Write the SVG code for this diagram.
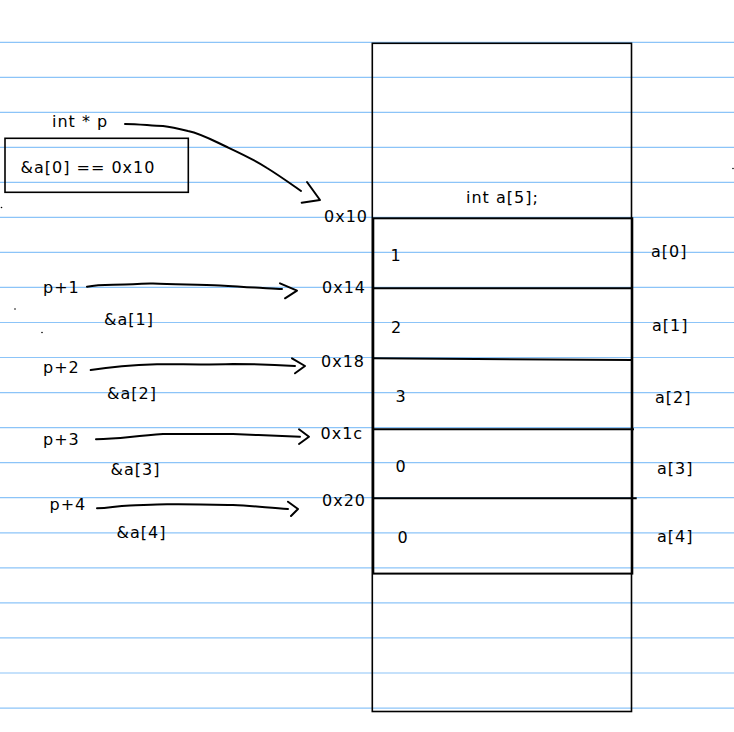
<svg xmlns="http://www.w3.org/2000/svg" width="734" height="732" viewBox="0 0 734 732">
<style>
text{font-family:"DejaVu Sans","Liberation Sans",sans-serif;font-size:16px;letter-spacing:1px;fill:#000}
.rule{stroke:#8cc4f8;stroke-width:1.2}
.box{fill:none;stroke:#000;stroke-width:1.6}
.cell{fill:none;stroke:#000;stroke-width:2}
.ink{fill:none;stroke:#000;stroke-width:2;stroke-linecap:round;stroke-linejoin:round}
</style>
<rect width="734" height="732" fill="#fff"/>
<g id="ruling">
<line class="rule" x1="0" y1="42.3" x2="734" y2="42.3"/>
<line class="rule" x1="0" y1="77.3" x2="734" y2="77.3"/>
<line class="rule" x1="0" y1="112.3" x2="734" y2="112.3"/>
<line class="rule" x1="0" y1="147.3" x2="734" y2="147.3"/>
<line class="rule" x1="0" y1="182.3" x2="734" y2="182.3"/>
<line class="rule" x1="0" y1="217.4" x2="734" y2="217.4"/>
<line class="rule" x1="0" y1="252.4" x2="734" y2="252.4"/>
<line class="rule" x1="0" y1="287.4" x2="734" y2="287.4"/>
<line class="rule" x1="0" y1="322.5" x2="734" y2="322.5"/>
<line class="rule" x1="0" y1="357.5" x2="734" y2="357.5"/>
<line class="rule" x1="0" y1="392.6" x2="734" y2="392.6"/>
<line class="rule" x1="0" y1="427.6" x2="734" y2="427.6"/>
<line class="rule" x1="0" y1="462.7" x2="734" y2="462.7"/>
<line class="rule" x1="0" y1="497.7" x2="734" y2="497.7"/>
<line class="rule" x1="0" y1="532.8" x2="734" y2="532.8"/>
<line class="rule" x1="0" y1="567.8" x2="734" y2="567.8"/>
<line class="rule" x1="0" y1="602.9" x2="734" y2="602.9"/>
<line class="rule" x1="0" y1="637.9" x2="734" y2="637.9"/>
<line class="rule" x1="0" y1="673" x2="734" y2="673"/>
<line class="rule" x1="0" y1="708.2" x2="734" y2="708.2"/>
</g>
<g id="specks" fill="#000">
<circle cx="1.5" cy="207.5" r="0.8"/>
<circle cx="15" cy="309" r="0.8"/>
<circle cx="42" cy="332.5" r="0.8"/>
<circle cx="733" cy="168.5" r="0.8"/>
</g>
<g id="memory">
<rect class="box" x="372.3" y="43.3" width="259.2" height="668.2"/>
<text x="466" y="203">int a[5];</text>
</g>
<g id="array">
<rect class="cell" x="373.3" y="218.3" width="259" height="355.3"/>
</g>
<g id="cell0">
<text x="390.5" y="261">1</text>
<text x="651" y="257">a[0]</text>
<text x="324" y="222">0x10</text>
</g>
<g id="cell1">
<line class="cell" x1="373.3" y1="288.3" x2="632.3" y2="288.3"/>
<text x="391" y="333.3">2</text>
<text x="652" y="331">a[1]</text>
<text x="322" y="293">0x14</text>
</g>
<g id="cell2">
<line class="cell" x1="373.3" y1="358.3" x2="632.3" y2="360"/>
<text x="395.5" y="402">3</text>
<text x="655" y="403">a[2]</text>
<text x="321" y="367">0x18</text>
</g>
<g id="cell3">
<line class="cell" x1="373.3" y1="429.3" x2="634" y2="429.3"/>
<text x="395.5" y="472">0</text>
<text x="657" y="473.5">a[3]</text>
<text x="320.5" y="439">0x1c</text>
</g>
<g id="cell4">
<line class="cell" x1="373.3" y1="498.3" x2="636.7" y2="498.3"/>
<text x="397.5" y="543">0</text>
<text x="657" y="542">a[4]</text>
<text x="322" y="506">0x20</text>
</g>
<g id="pointer">
<text x="52" y="127">int * p</text>
<rect class="box" x="5" y="138.3" width="183.3" height="54"/>
<text x="20.5" y="173.3">&amp;a[0] == 0x10</text>
</g>
<g id="offsets">
<text x="43" y="293">p+1</text>
<text x="104" y="325">&amp;a[1]</text>
<text x="43" y="373">p+2</text>
<text x="107" y="399">&amp;a[2]</text>
<text x="43" y="444.5">p+3</text>
<text x="110.5" y="474.5">&amp;a[3]</text>
<text x="49.5" y="510">p+4</text>
<text x="116.5" y="537.5">&amp;a[4]</text>
</g>
<g id="connectors">
<path class="ink" d="M125,124 C140,124 152,126 163,126 C172,127 180,129 188,131 C202,134 214,141 227,147 C242,154 255,160 267,168 C280,176 291,184 301,191"/>
<path class="ink" d="M307,182 L320,200 L301.7,202.7"/>
<path class="ink" d="M87,286.7 C100,284 110,285 125,284.5 C140,284.5 145,283 153,283.5 C175,284.5 200,284.5 220,285.5 C235,286 240,287 255,287.5 C265,288 275,289 282,289"/>
<path class="ink" d="M280,283.3 L297,290.7 L285,298.3"/>
<path class="ink" d="M90.7,370 C110,367 135,365 157,364.3 C180,364 200,365 233,364 C260,364 280,365 295,366"/>
<path class="ink" d="M292,358.3 L305,366 L295,373.3"/>
<path class="ink" d="M96,439.3 C110,439 120,438 130,437 C145,435.5 150,435 163,434 C185,434 210,434 233,434 C255,435 280,436 300,436.7"/>
<path class="ink" d="M299,429.3 L309,436.7 L299,444"/>
<path class="ink" d="M97,508.3 C110,508 115,506 130,505.5 C145,505 155,504.5 167,504.3 C190,504 210,504.5 233,505 C255,506 270,508 288,509"/>
<path class="ink" d="M288,501.7 L298,509 L291,516"/>
</g>
</svg>
